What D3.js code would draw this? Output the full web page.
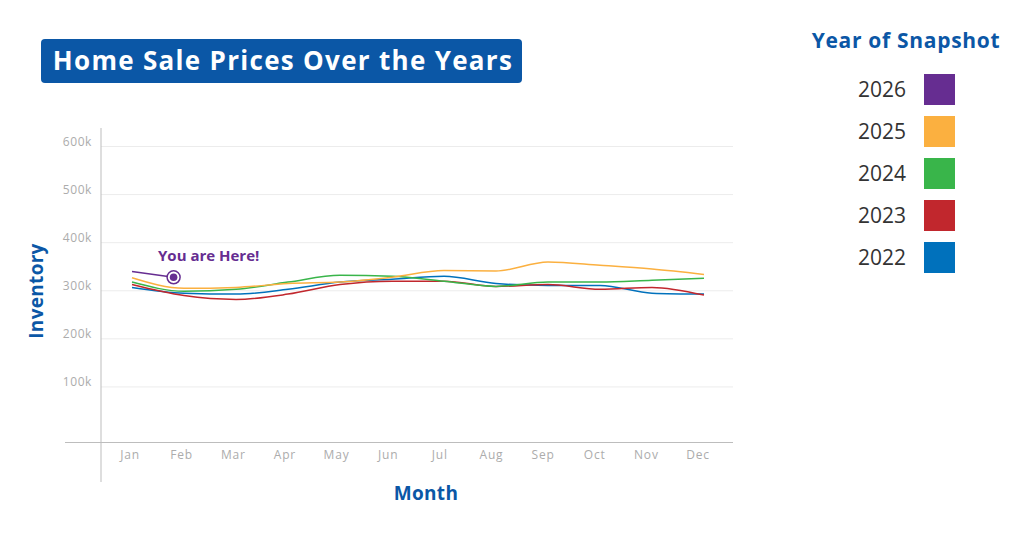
<!DOCTYPE html>
<html lang="en">
<head>
    <meta charset="UTF-8" />
    <title>Home Sale Prices Over the Years</title>
    <script src="https://d3js.org/d3.v7.min.js"></script>
    <style>
        body {
            margin: 0;
            background: #fff;
            font-family: "Open Sans", sans-serif;
        }
    </style>
</head>
<body>
    <svg id="chart" width="1024" height="550"></svg>

    <script>
        const months = ["Jan", "Feb", "Mar", "Apr", "May", "Jun", "Jul", "Aug", "Sep", "Oct", "Nov", "Dec"];
        const yTicks = [100, 200, 300, 400, 500, 600];

        // values in thousands
        const v2025 = [327, 305, 307, 315, 318, 328, 342, 341, 360, 353, 345, 334];
        const v2024 = [318, 299, 303, 318, 332, 330, 320, 309, 318, 318, 322, 326];
        const v2023 = [313, 290, 282, 293, 313, 320, 320, 309, 313, 303, 307, 291];
        const v2022 = [307, 295, 293, 303, 318, 324, 330, 315, 311, 311, 295, 293];
        // 2026 only goes up to "now" (early Feb)
        const m2026 = [0, 0.8];
        const v2026 = [340, 328];

        const years = ["2026", "2025", "2024", "2023", "2022"];
        const colors = ["#662d91", "#fbb040", "#39b54a", "#c1272d", "#0071bc"];

        const blue = "#0b57a6";
        const svg = d3.select("#chart");

        const x = d3.scaleLinear().domain([0, 11]).range([132, 704]);
        const xLab = d3.scalePoint().domain(months).range([130, 698]);
        const y = d3.scaleLinear().domain([0, 600]).range([435, 146.5]);

        // gridlines
        svg.append("g")
            .selectAll("line")
            .data(yTicks)
            .join("line")
            .attr("x1", 101).attr("x2", 733)
            .attr("y1", d => y(d)).attr("y2", d => y(d))
            .attr("stroke", "#ececec")
            .attr("stroke-width", 1);

        svg.append("g")
            .selectAll("text")
            .data(yTicks)
            .join("text")
            .attr("x", 92)
            .attr("y", d => y(d) - 0.5)
            .attr("text-anchor", "end")
            .attr("font-size", 12)
            .attr("letter-spacing", 0.6)
            .attr("fill", "#acacac")
            .text(d => d + "k");

        // axes lines
        svg.append("line")
            .attr("x1", 101).attr("x2", 101)
            .attr("y1", 128).attr("y2", 482)
            .attr("stroke", "#bdbdbd");
        svg.append("line")
            .attr("x1", 65).attr("x2", 733)
            .attr("y1", 442.5).attr("y2", 442.5)
            .attr("stroke", "#bdbdbd");

        svg.append("g")
            .selectAll("text")
            .data(months)
            .join("text")
            .attr("x", d => xLab(d))
            .attr("y", 459)
            .attr("text-anchor", "middle")
            .attr("font-size", 12)
            .attr("letter-spacing", 0.8)
            .attr("fill", "#acacac")
            .text(d => d);

        // lines
        const line = d3.line()
            .x(d => x(d[0]))
            .y(d => y(d[1]))
            .curve(d3.curveMonotoneX);

        const series = [
            { name: "2022", vals: v2022 },
            { name: "2023", vals: v2023 },
            { name: "2024", vals: v2024 },
            { name: "2025", vals: v2025 }
        ];
        series.forEach(s => {
            const pts = s.vals.map((v, i) => [i, v]);
            svg.append("path")
                .attr("d", line(pts))
                .attr("fill", "none")
                .attr("stroke", colors[years.indexOf(s.name)])
                .attr("stroke-width", 1.5);
        });

        const pts26 = m2026.map((m, i) => [m, v2026[i]]);
        svg.append("path")
            .attr("d", d3.line().x(d => x(d[0])).y(d => y(d[1]))(pts26))
            .attr("fill", "none")
            .attr("stroke", colors[0])
            .attr("stroke-width", 1.5);

        const last = pts26[pts26.length - 1];
        svg.append("circle")
            .attr("cx", x(last[0])).attr("cy", y(last[1]))
            .attr("r", 6.5)
            .attr("fill", "#fff")
            .attr("stroke", colors[0])
            .attr("stroke-width", 1.5);
        svg.append("circle")
            .attr("cx", x(last[0])).attr("cy", y(last[1]))
            .attr("r", 3.8)
            .attr("fill", colors[0]);

        svg.append("text")
            .attr("x", 158)
            .attr("y", 261)
            .attr("font-size", 15)
            .attr("font-weight", "bold")
            .attr("fill", colors[0])
            .text("You are Here!");

        // axis titles
        svg.append("text")
            .attr("transform", "translate(43,291) rotate(-90)")
            .attr("text-anchor", "middle")
            .attr("font-size", 19)
            .attr("letter-spacing", 0.3)
            .attr("font-weight", "bold")
            .attr("fill", blue)
            .text("Inventory");

        svg.append("text")
            .attr("x", 426)
            .attr("y", 500)
            .attr("text-anchor", "middle")
            .attr("font-size", 19)
            .attr("letter-spacing", 0.3)
            .attr("font-weight", "bold")
            .attr("fill", blue)
            .text("Month");

        // title box
        svg.append("rect")
            .attr("x", 41).attr("y", 39)
            .attr("width", 481).attr("height", 44)
            .attr("rx", 4)
            .attr("fill", blue);
        svg.append("text")
            .attr("x", 283)
            .attr("y", 70)
            .attr("text-anchor", "middle")
            .attr("font-size", 26)
            .attr("letter-spacing", 1.3)
            .attr("font-weight", "bold")
            .attr("fill", "#fff")
            .text("Home Sale Prices Over the Years");

        // legend
        svg.append("text")
            .attr("x", 906)
            .attr("y", 48)
            .attr("text-anchor", "middle")
            .attr("font-size", 21)
            .attr("letter-spacing", 0.7)
            .attr("font-weight", "bold")
            .attr("fill", blue)
            .text("Year of Snapshot");

        const leg = svg.append("g")
            .selectAll("g")
            .data(years)
            .join("g")
            .attr("transform", (d, i) => `translate(0,${74 + i * 42})`);
        leg.append("rect")
            .attr("x", 924).attr("y", 0)
            .attr("width", 31).attr("height", 31)
            .attr("fill", (d, i) => colors[i]);
        leg.append("text")
            .attr("x", 906)
            .attr("y", 23)
            .attr("text-anchor", "end")
            .attr("font-size", 21)
            .attr("fill", "#333")
            .text(d => d);
    </script>
</body>
</html>
